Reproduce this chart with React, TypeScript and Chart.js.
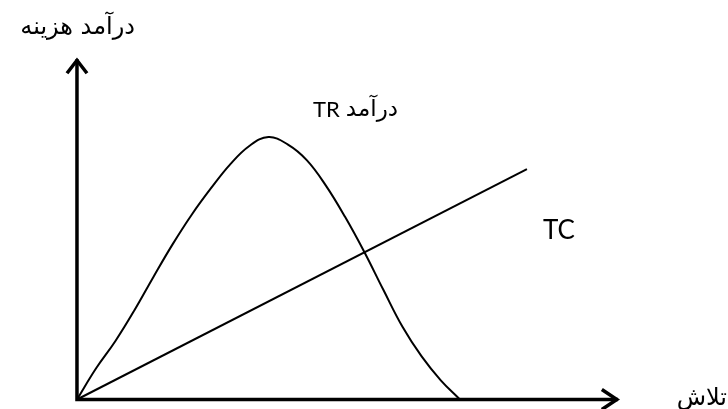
import React, { useEffect, useRef } from "react";
import { Chart, registerables } from "chart.js";

Chart.register(...registerables);

// Effort (x) values and the total revenue (TR)
const effortValues = [0, 0.5, 1, 1.5, 2, 2.5, 3, 3.5, 4, 4.5, 5, 5.5, 6, 6.5, 7, 7.5, 8, 8.5, 9, 9.5, 10];
const revenueValues = [0, 1.19, 2.22, 3.4, 4.68, 5.92, 7.05, 8.05, 8.96, 9.66, 10.0, 9.72, 9.12, 8.15, 6.96, 5.63, 4.18, 2.77, 1.64, 0.73, 0];
// Total cost (TC) straight line
const costEffort = [0, 11.75];
const costValues = [0, 8.78];
// Axis arrow ends
const xAxisEnd = 14.15;
const yAxisEnd = 13.0;

const yAxisTitle = "درآمد هزینه";
const xAxisTitle = "تلاش";
const trLabelFa = "درآمد";
const trLabelEn = "TR";
const tcLabel = "TC";

const LATIN = 'Lato, "Liberation Sans", Arial, sans-serif';
const ARABIC = '"DejaVu Sans", sans-serif';

const axesPlugin = {
  id: "axesArrows",
  afterDatasetsDraw(chart: any) {
    const ctx = chart.ctx;
    const xs = chart.scales.x;
    const ys = chart.scales.y;
    const ox = xs.getPixelForValue(0);
    const oy = ys.getPixelForValue(0);
    const xt = xs.getPixelForValue(xAxisEnd);
    const yt = ys.getPixelForValue(yAxisEnd);
    ctx.save();
    ctx.strokeStyle = "#000";
    ctx.lineWidth = 3.5;
    ctx.lineCap = "butt";
    ctx.lineJoin = "miter";
    ctx.beginPath();
    ctx.moveTo(ox, oy + 1.75);
    ctx.lineTo(ox, yt + 1);
    ctx.moveTo(ox - 1.75, oy);
    ctx.lineTo(xt - 1, oy);
    ctx.stroke();
    // arrow heads
    ctx.beginPath();
    ctx.moveTo(ox - 10, yt + 15);
    ctx.lineTo(ox, yt + 2);
    ctx.lineTo(ox + 10, yt + 15);
    ctx.moveTo(xt - 17, oy - 10);
    ctx.lineTo(xt - 2, oy);
    ctx.lineTo(xt - 17, oy + 10);
    ctx.stroke();

    ctx.fillStyle = "#000";
    ctx.textBaseline = "alphabetic";
    ctx.direction = "rtl";
    ctx.textAlign = "right";
    ctx.font = `24px ${ARABIC}`;
    ctx.fillText(yAxisTitle, 135, 34);
    ctx.fillText(xAxisTitle, 727, 405);
    ctx.font = `23px ${ARABIC}`;
    ctx.fillText(trLabelFa, 398, 116);
    const faWidth = ctx.measureText(trLabelFa).width;
    ctx.direction = "ltr";
    ctx.textAlign = "right";
    ctx.font = `22px ${LATIN}`;
    ctx.fillText(trLabelEn, 398 - faWidth - 6, 117);
    ctx.textAlign = "left";
    ctx.font = `26px ${LATIN}`;
    ctx.fillText(tcLabel, 543, 239);
    ctx.restore();
  },
};

export default function App() {
  const ref = useRef<HTMLCanvasElement | null>(null);
  useEffect(() => {
    document.body.style.margin = "0";
    const canvas = ref.current;
    if (!canvas) return;
    const chart = new Chart(canvas, {
      type: "scatter",
      data: {
        datasets: [
          {
            label: "TR",
            data: effortValues.map((x, i) => ({ x, y: revenueValues[i] })),
            showLine: true,
            borderColor: "#000",
            borderWidth: 2,
            pointRadius: 0,
            tension: 0.4,
            fill: false,
          },
          {
            label: "TC",
            data: costEffort.map((x, i) => ({ x, y: costValues[i] })),
            showLine: true,
            borderColor: "#000",
            borderWidth: 2,
            pointRadius: 0,
            fill: false,
          },
        ],
      },
      options: {
        animation: false,
        responsive: false,
        maintainAspectRatio: false,
        layout: { padding: 0 },
        plugins: { legend: { display: false }, tooltip: { enabled: false } },
        scales: {
          x: { type: "linear", display: false, min: -2.01, max: 17.0 },
          y: { type: "linear", display: false, min: -0.362, max: 15.22 },
        },
      },
      plugins: [axesPlugin],
    } as any);
    return () => chart.destroy();
  }, []);
  return (
    <div style={{ position: "absolute", left: 0, top: 0, width: 728, height: 409, background: "#fff" }}>
      <canvas ref={ref} width={728} height={409} style={{ display: "block" }} />
    </div>
  );
}
